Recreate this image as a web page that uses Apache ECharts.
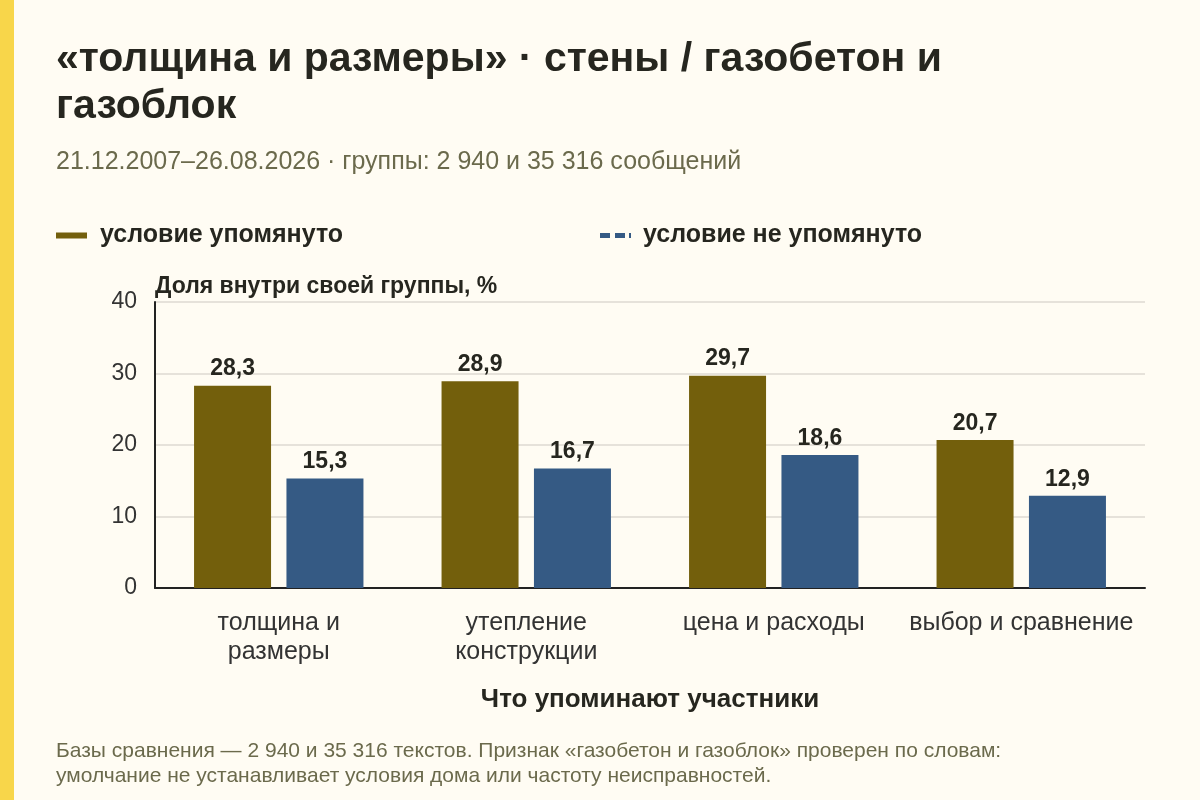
<!DOCTYPE html>
<html>
<head>
<meta charset="utf-8">
<script src="https://cdn.jsdelivr.net/npm/echarts@6/dist/echarts.min.js"></script>
<style>
html,body{margin:0;padding:0;background:#fffcf3;}
#c{width:1200px;height:800px;}
</style>
</head>
<body>
<div id="c"></div>
<script>
const categories = ['толщина и\nразмеры', 'утепление\nконструкции', 'цена и расходы', 'выбор и сравнение'];
const seriesNames = ['условие упомянуто', 'условие не упомянуто'];
const mentioned = [28.3, 28.9, 29.7, 20.7];
const notMentioned = [15.3, 16.7, 18.6, 12.9];
const yTicks = {min: 0, max: 40, interval: 10};

const FONT = '"Liberation Sans", Arial, sans-serif';
const chart = echarts.init(document.getElementById('c'), null, {renderer: 'canvas'});
const fmt = v => String(v).replace('.', ',');

chart.setOption({
  backgroundColor: '#fffcf3',
  textStyle: {fontFamily: FONT},
  title: [{
    text: '«толщина и размеры» · стены / газобетон и\nгазоблок',
    left: 56, top: 36, padding: 0,
    textStyle: {fontFamily: FONT, fontSize: 41, fontWeight: 'bold', color: '#26261f', lineHeight: 47}
  }, {
    text: '21.12.2007–26.08.2026 · группы: 2 940 и 35 316 сообщений',
    left: 56, top: 150, padding: 0,
    textStyle: {fontFamily: FONT, fontSize: 25, fontWeight: 'normal', color: '#6b6a4c'}
  }, {
    text: 'Базы сравнения — 2 940 и 35 316 текстов. Признак «газобетон и газоблок» проверен по словам:\nумолчание не устанавливает условия дома или частоту неисправностей.',
    left: 56, top: 739, padding: 0,
    textStyle: {fontFamily: FONT, fontSize: 21, fontWeight: 'normal', color: '#6b6a4c', lineHeight: 25}
  }],
  graphic: [{
    type: 'rect', left: 0, top: 0, shape: {x: 0, y: 0, width: 14, height: 800},
    style: {fill: '#f8d64a'}
  }],
  legend: [{
    data: [{name: seriesNames[0], icon: 'rect'}],
    left: 56, top: 223, padding: 0, itemWidth: 31, itemHeight: 6,
    textStyle: {fontFamily: FONT, fontSize: 25, fontWeight: 'bold', color: '#26261f', padding: [0, 0, 0, 8]}
  }, {
    data: [{name: seriesNames[1], icon: 'path://M0,0h10v5h-10z M15,0h10v5h-10z M29,0h2v5h-2z'}],
    left: 600, top: 223, padding: 0, itemWidth: 31, itemHeight: 5,
    textStyle: {fontFamily: FONT, fontSize: 25, fontWeight: 'bold', color: '#26261f', padding: [0, 0, 0, 7]}
  }],
  grid: {left: 155, right: 55, top: 302, bottom: 212},
  xAxis: {
    type: 'category',
    data: categories,
    name: 'Что упоминают участники',
    nameLocation: 'middle',
    nameGap: 99,
    nameTextStyle: {fontFamily: FONT, fontSize: 26, fontWeight: 'bold', color: '#26261f'},
    axisLine: {lineStyle: {color: '#222', width: 2}},
    axisTick: {alignWithLabel: true, length: 6, lineStyle: {color: '#444', width: 2}},
    axisLabel: {fontFamily: FONT, fontSize: 25, color: '#333', lineHeight: 29, margin: 21, interval: 0}
  },
  yAxis: {
    type: 'value',
    min: yTicks.min, max: yTicks.max, interval: yTicks.interval,
    name: 'Доля внутри своей группы, %',
    nameLocation: 'end',
    nameGap: 4,
    nameTextStyle: {fontFamily: FONT, fontSize: 23, fontWeight: 'bold', color: '#26261f', align: 'left'},
    axisLine: {show: true, lineStyle: {color: '#222', width: 2}},
    axisTick: {show: false},
    axisLabel: {fontFamily: FONT, fontSize: 23, color: '#333', margin: 18},
    splitLine: {lineStyle: {color: '#dedad2', width: 1.5}}
  },
  series: [{
    name: seriesNames[0], type: 'bar', data: mentioned,
    barWidth: 77, barGap: '20%',
    itemStyle: {color: '#735f0c'},
    label: {show: true, position: 'top', distance: 5, fontFamily: FONT, fontSize: 23, fontWeight: 'bold', color: '#26261f', formatter: p => fmt(p.value)}
  }, {
    name: seriesNames[1], type: 'bar', data: notMentioned,
    barWidth: 77,
    itemStyle: {color: '#355a84'},
    label: {show: true, position: 'top', distance: 5, fontFamily: FONT, fontSize: 23, fontWeight: 'bold', color: '#26261f', formatter: p => fmt(p.value)}
  }]
});
</script>
</body>
</html>
